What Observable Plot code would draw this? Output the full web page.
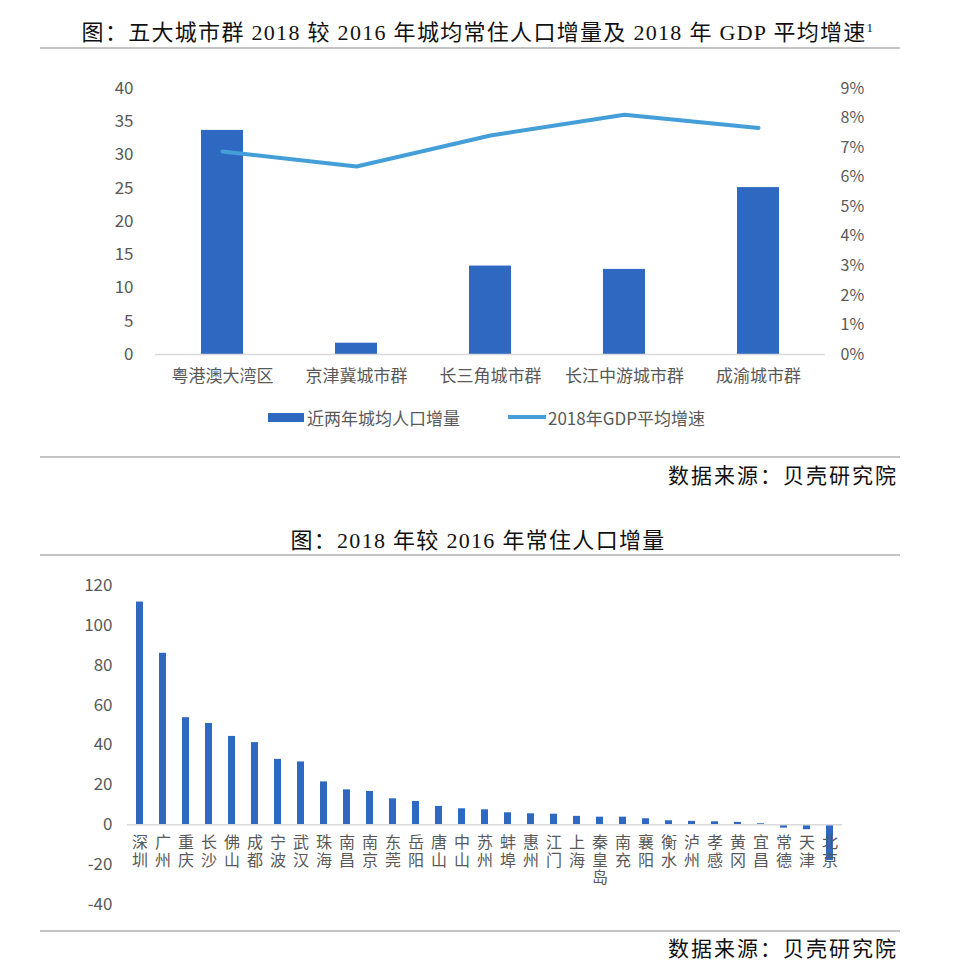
<!DOCTYPE html>
<html>
<head>
<meta charset="utf-8">
<script src="https://cdn.jsdelivr.net/npm/d3@7"></script>
<script src="https://cdn.jsdelivr.net/npm/@observablehq/plot@0.6"></script>
<style>
  html, body { margin: 0; padding: 0; background: #fff; }
  #wrap { position: relative; width: 956px; height: 973px; overflow: hidden; }
  .abs { position: absolute; }
  .title { font-family: "Liberation Serif", "Noto Sans CJK SC", serif; font-size: 22px; color: #111; white-space: nowrap; left: 0; width: 956px; text-align: center; letter-spacing: 1.3px; }
  .rule { left: 40px; width: 860px; height: 2px; background: #c4c4c4; }
  .source { font-family: "Liberation Serif", "Noto Sans CJK SC", serif; font-size: 21px; color: #111; right: 58px; letter-spacing: 2px; white-space: nowrap; }
  .legend { font-family: "Noto Sans CJK SC", sans-serif; font-size: 17px; color: #595959; white-space: nowrap; }
</style>
</head>
<body>
<div id="wrap">
  <div class="abs title" style="top:14px;">图：五大城市群 2018 较 2016 年城均常住人口增量及 2018 年 GDP 平均增速<sup style="font-size:13px;">1</sup></div>
  <div class="abs rule" style="top:47px;"></div>
  <div id="chart1" class="abs" style="left:0; top:70px;"></div>
  <div class="abs legend" style="left:268px; top:402px;">
    <span style="display:inline-block; width:36px; height:9px; background:#2F68C0; vertical-align:middle; margin-right:3px;"></span><span style="vertical-align:middle;">近两年城均人口增量</span>
  </div>
  <div class="abs legend" style="left:508px; top:402px;">
    <span style="display:inline-block; width:38px; height:4px; background:#449ED8; vertical-align:middle; margin-right:2px;"></span><span style="vertical-align:middle;">2018年GDP平均增速</span>
  </div>
  <div class="abs rule" style="top:456px;"></div>
  <div class="abs source" style="top:459px;">数据来源：贝壳研究院</div>

  <div class="abs title" style="top:522px;">图：2018 年较 2016 年常住人口增量</div>
  <div class="abs rule" style="top:554px;"></div>
  <div id="chart2" class="abs" style="left:0; top:560px;"></div>
  <div class="abs rule" style="top:930px;"></div>
  <div class="abs source" style="top:932px;">数据来源：贝壳研究院</div>
</div>
<script>
// ---- Chart 1 data ----
const regions = ["粤港澳大湾区", "京津冀城市群", "长三角城市群", "长江中游城市群", "成渝城市群"];
const popIncrease = [33.7, 1.7, 13.3, 12.8, 25.1];
const gdpGrowth = [6.87, 6.36, 7.41, 8.11, 7.66]; // percent
const leftTicks = [0, 5, 10, 15, 20, 25, 30, 35, 40];
const rightTicks = [0, 1, 2, 3, 4, 5, 6, 7, 8, 9];

// ---- Chart 2 data ----
const cities = ["深圳", "广州", "重庆", "长沙", "佛山", "成都", "宁波", "武汉", "珠海", "南昌",
  "南京", "东莞", "岳阳", "唐山", "中山", "苏州", "蚌埠", "惠州", "江门", "上海",
  "秦皇岛", "南充", "襄阳", "衡水", "泸州", "孝感", "黄冈", "宜昌", "常德", "天津", "北京"];
const cityIncrease = [111.7, 86, 53.7, 50.8, 44.3, 41.2, 32.8, 31.5, 21.5, 17.5,
  16.7, 13, 11.7, 9.2, 8, 7.5, 6, 5.5, 5.3, 4.2,
  3.8, 3.8, 3, 2, 1.7, 1.5, 1.2, 0.5, -1.7, -2.5, -18];
const cityTicks = [-40, -20, 0, 20, 40, 60, 80, 100, 120];

const barColor = "#2F68C0";
const lineColor = "#449ED8";
const font = '"Noto Sans CJK SC", "Noto Sans", sans-serif';

const regionTable = regions.map((r, i) => ({region: r, pop: popIncrease[i], gdp: gdpGrowth[i]}));
const leftMax = 40, rightMax = 9;

const chart1 = Plot.plot({
  width: 956, height: 330,
  marginLeft: 155, marginRight: 131, marginTop: 18, marginBottom: 46,
  style: {fontFamily: font, fontSize: "17px", color: "#595959", background: "transparent", overflow: "visible"},
  x: {domain: regions, paddingInner: 0.69, paddingOuter: 0.345, label: null},
  y: {domain: [0, leftMax], label: null},
  marks: [
    Plot.barY(regionTable, {x: "region", y: "pop", fill: barColor}),
    Plot.ruleY([0], {stroke: "#d9d9d9", strokeWidth: 1.5}),
    Plot.line(regionTable, {x: "region", y: d => d.gdp * leftMax / rightMax, stroke: lineColor, strokeWidth: 4, strokeLinecap: "round"}),
    Plot.axisY(leftTicks, {anchor: "left", tickSize: 0, tickPadding: 22, label: null, fontSize: 17, tickFormat: d => String(d)}),
    Plot.axisY(rightTicks, {anchor: "right", y: d => d * leftMax / rightMax, tickFormat: d => d + "%", tickSize: 0, tickPadding: 15, label: null, fontSize: 16}),
    Plot.axisX({tickSize: 0, tickPadding: 15, label: null, fontSize: 17})
  ]
});
document.getElementById("chart1").appendChild(chart1);

const cityTable = cities.map((c, i) => ({city: c, value: cityIncrease[i]}));

const chart2 = Plot.plot({
  width: 956, height: 370,
  marginLeft: 127, marginRight: 114, marginTop: 25, marginBottom: 26,
  style: {fontFamily: font, fontSize: "17px", color: "#595959", background: "transparent", overflow: "visible"},
  x: {domain: cities, paddingInner: 0.7, paddingOuter: 0.35, label: null, axis: null},
  y: {domain: [-40, 120], label: null},
  marks: [
    Plot.barY(cityTable, {x: "city", y: "value", fill: barColor}),
    Plot.ruleY([0], {stroke: "#d9d9d9", strokeWidth: 1.5}),
    Plot.axisY(cityTicks, {anchor: "left", tickSize: 0, tickPadding: 15, label: null, fontSize: 17, tickFormat: d => String(d)}),
    Plot.text(cityTable, {x: "city", y: () => 0, text: d => d.city.split("").join("\n"), lineAnchor: "top", dy: 11, fontSize: 16, lineHeight: 1.1, fill: "#595959"})
  ]
});
document.getElementById("chart2").appendChild(chart2);
</script>
</body>
</html>
